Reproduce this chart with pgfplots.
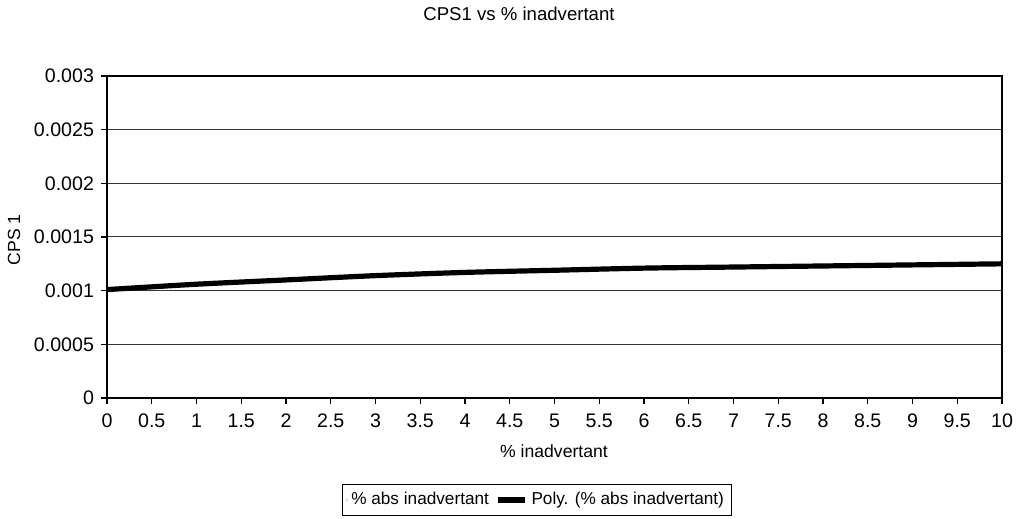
\documentclass[border=0pt]{standalone}
\usepackage{pgfplots}
\pgfplotsset{compat=1.18}
\usepackage{fontspec}
\setmainfont{Liberation Sans}
\begin{document}
\begin{tikzpicture}[x=1pt,y=1pt]
\useasboundingbox (0,0) rectangle (512,259.5);
\begin{axis}[
  at={(53.5pt,60.5pt)}, anchor=south west,
  scale only axis, width=447.5pt, height=161pt,
  xmin=0, xmax=10, ymin=0, ymax=0.003,
  xtick={0,0.5,...,10},
  xticklabels={0,0.5,1,1.5,2,2.5,3,3.5,4,4.5,5,5.5,6,6.5,7,7.5,8,8.5,9,9.5,10},
  ytick={0,0.0005,0.001,0.0015,0.002,0.0025,0.003},
  yticklabels={0,0.0005,0.001,0.0015,0.002,0.0025,0.003},
  scaled y ticks=false,
  xtick pos=bottom, ytick pos=left,
  tick align=outside, major tick length=3pt,
  tick style={black, line width=0.6pt},
  ticklabel style={font=\fontsize{9.8}{11}\selectfont},
  xticklabel style={yshift=-1.5pt},
  yticklabel style={xshift=0pt},
  axis line style={black, line width=0.8pt},
  ymajorgrids, grid style={black!80, line width=0.5pt},
  legend style={at={(268.5pt-53.5pt,9.5pt-60.5pt)}, anchor=center, draw=black, line width=0.5pt,
    font=\fontsize{8.6}{10}\selectfont, legend columns=2, inner sep=2pt,
    /tikz/every even column/.append style={column sep=1pt}},
  legend image post style={scale=0.8},
  legend cell align=left,
  clip=false,
]
\addlegendimage{only marks, mark=*, mark size=0.4pt, draw=black!15, fill=black!15}
\addlegendentry{\% abs inadvertant}
\addplot[black, line width=2.6pt, smooth] coordinates {
(0,0.00101) (1,0.00106) (2,0.00110) (3,0.00114) (4,0.00117) (5,0.00119)
(6,0.00121) (7,0.00122) (8,0.00123) (9,0.00124) (10,0.00125)};
\addlegendentry{Poly. (\% abs inadvertant)}
\end{axis}
\node[font=\fontsize{9.3}{11}\selectfont] at (259.5,252.5) {CPS1 vs \% inadvertant};
\node[font=\fontsize{8.8}{10}\selectfont] at (277,34) {\% inadvertant};
\node[font=\fontsize{8.8}{10}\selectfont, rotate=90] at (7,139.5) {CPS 1};
\end{tikzpicture}
\end{document}
